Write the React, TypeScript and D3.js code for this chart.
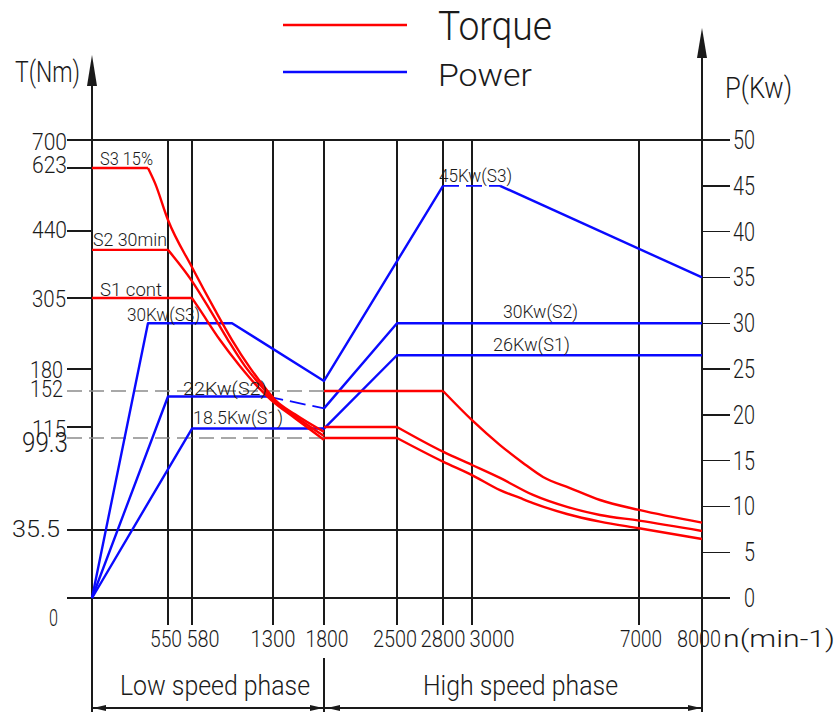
import * as d3 from "d3";

// speed axis (min-1) — the drawing spaces these unevenly
const rpmTicks = [0, 550, 580, 1300, 1800, 2500, 2800, 3000, 7000, 8000];
const rpmPx = [92, 168, 192, 273, 324, 397, 443, 472, 639, 702];

// torque axis (Nm) — also uneven
const torqueTicks = [0, 35.5, 99.3, 115, 152, 180, 305, 440, 623, 700];
const torquePx = [598, 530, 438, 427, 391, 369, 298, 231, 168, 140];

const powerTicks = [0, 5, 10, 15, 20, 25, 30, 35, 40, 45, 50];

// torque curves [rpm, Nm]: flat part, then falling part
const torqueS3LowFlat = [[0, 623], [405, 623]];
const torqueS3LowFall = [[405, 623], [456, 579], [550, 472], [580, 367], [784, 284], [936, 231], [1096, 182], [1229, 156], [1320, 143], [1516, 128], [1800, 108]];
const torqueS2LowFlat = [[0, 402], [550, 402]];
const torqueS2LowFall = [[550, 402], [580, 339], [740, 284], [900, 231], [1051, 185], [1202, 157], [1300, 143], [1516, 126], [1800, 102]];
const torqueS1LowFlat = [[0, 305], [580, 305]];
const torqueS1LowFall = [[580, 305], [651, 284], [829, 231], [1007, 185], [1167, 157], [1282, 143], [1516, 124], [1800, 98]];
const torqueS3HighFlat = [[1800, 152], [2800, 152]];
const torqueS3HighFall = [[2800, 152], [3000, 122], [3671, 94.4], [4222, 82], [4701, 72.3], [5347, 64.6], [6066, 56.3], [7000, 49.4], [8000, 40.6]];
const torqueS2HighFlat = [[1800, 115], [2500, 115]];
const torqueS2HighFall = [[2500, 115], [2800, 89.8], [3000, 80.6], [3671, 71.6], [4461, 59.8], [5275, 51.5], [6066, 45.9], [7000, 42], [8000, 35]];
const torqueS1HighFlat = [[1800, 99.3], [2500, 99.3]];
const torqueS1HighFall = [[2500, 99.3], [2800, 82.9], [3000, 73.6], [3671, 63.2], [4150, 57.7], [4461, 54.2], [5275, 46.6], [6066, 41.3], [7000, 36.7], [8000, 30.8]];

// power curves [rpm, kW]
const powerS3 = [[0, 0], [405, 30], [936, 30], [1800, 23.7], [2800, 45]];
const powerS3Dash = [[2800, 45], [3671, 45]];
const powerS3Tail = [[3671, 45], [8000, 35]];
const powerS2 = [[0, 0], [550, 22], [1250, 22]];
const powerS2Dash = [[1250, 22], [1800, 20.7]];
const powerS2High = [[1800, 20.7], [2500, 30], [8000, 30]];
const powerS1 = [[0, 0], [580, 18.5], [1800, 18.5], [2500, 26.5], [8000, 26.5]];

const tickTorque = [623, 440, 305, 180, 115];
const dashedTorque = [152, 99.3];

const FONT = "Roboto, 'Liberation Sans', Arial, sans-serif";
const INK = "#1a1a1a";
const RED = "#ff0000";
const BLUE = "#0a0aff";

type LabelProps = { x: number; y: number; w: number; size: number; anchor?: string; children: string };
const Label = ({ x, y, w, size, anchor = "start", children }: LabelProps) => (
  <text
    x={x}
    y={y}
    fontSize={size}
    fontWeight={300}
    textLength={w}
    lengthAdjust="spacingAndGlyphs"
    textAnchor={anchor}
    fill={INK}
    fontFamily={FONT}
  >
    {children}
  </text>
);

// left-axis label tweaks [value, text, rightEdge, baselineShift, width, size]
const torqueLabels: [number, string, number, number, number, number][] = [
  [700, "700", 67, 10, 35, 24],
  [623, "623", 67, 5, 35, 24],
  [440, "440", 67, 7, 35, 24],
  [305, "305", 66, 9, 34, 24],
  [180, "180", 63, 9, 33, 24],
  [152, "152", 63, 6, 33, 24],
  [115, "115", 66, 10, 34, 24],
  [99.3, "99.3", 68, 14, 46, 28],
  [35.5, "35.5", 60, 7, 48, 24],
  [0, "0", 58, 28, 9, 24],
];

// bottom label tweaks [rpm, dx, width]
const rpmLabels: [number, number, number][] = [
  [550, -2, 32], [580, 11, 33], [1300, 0, 45], [1800, 3, 43], [2500, -2, 44],
  [2800, 0, 45], [3000, 20, 45], [7000, 2, 42], [8000, -3, 44],
];

export default function App() {
  const x = d3.scaleLinear().domain(rpmTicks).range(rpmPx);
  const yT = d3.scaleLinear().domain(torqueTicks).range(torquePx);
  const yP = d3.scaleLinear().domain([0, 50]).range([598, 140]);

  const tLine = d3.line<number[]>().x((d) => x(d[0])).y((d) => yT(d[1]));
  const tCurve = d3.line<number[]>().x((d) => x(d[0])).y((d) => yT(d[1])).curve(d3.curveMonotoneX);
  const pLine = d3.line<number[]>().x((d) => x(d[0])).y((d) => yP(d[1]));

  const xL = x(0);
  const xR = x(8000);
  const yTop = yT(700);
  const y0 = yT(0);
  const tickL = 67;
  const tickR = 730;
  const gridBottom = 625;
  const dimY = 708;
  const xMid = x(1800);

  const arrow = (tipX: number, tipY: number, dir: number) =>
    `${tipX},${tipY} ${tipX - 13 * dir},${tipY - 3} ${tipX - 13 * dir},${tipY + 3}`;

  const torqueFlat = [torqueS3LowFlat, torqueS2LowFlat, torqueS1LowFlat, torqueS3HighFlat, torqueS2HighFlat, torqueS1HighFlat];
  const torqueFall = [torqueS3LowFall, torqueS2LowFall, torqueS1LowFall, torqueS3HighFall, torqueS2HighFall, torqueS1HighFall];
  const powerSolid = [powerS3, powerS3Tail, powerS2, powerS2High, powerS1];
  const powerDashed = [powerS3Dash, powerS2Dash];

  return (
    <svg
      width={840}
      height={712}
      style={{ position: "absolute", left: 0, top: 0, background: "#fff" }}
    >
      {/* legend */}
      <line x1={283} x2={407} y1={25} y2={25} stroke={RED} strokeWidth={2.5} />
      <line x1={283} x2={407} y1={72} y2={72} stroke={BLUE} strokeWidth={2.5} />
      <Label x={438} y={40} w={114} size={40}>Torque</Label>
      <Label x={438} y={86} w={94} size={32}>Power</Label>

      {/* axes titles */}
      <Label x={15} y={82} w={65} size={30}>T(Nm)</Label>
      <Label x={725} y={98} w={67} size={29}>P(Kw)</Label>
      <Label x={723} y={647} w={112} size={24}>n(min-1)</Label>

      {/* grid */}
      <g stroke={INK} strokeWidth={1.4} shapeRendering="crispEdges">
        <line x1={tickL} x2={tickR} y1={yTop} y2={yTop} />
        <line x1={tickL} x2={tickR} y1={y0} y2={y0} />
        <line x1={tickL} x2={x(7000)} y1={yT(35.5)} y2={yT(35.5)} />
        {tickTorque.map((v) => (
          <line key={v} x1={tickL} x2={xL} y1={yT(v)} y2={yT(v)} />
        ))}
        {powerTicks.slice(1, -1).map((v) => (
          <line key={v} x1={xR} x2={tickR} y1={yP(v)} y2={yP(v)} />
        ))}
        {rpmTicks.slice(1, -1).map((r) => (
          <line key={r} x1={x(r)} x2={x(r)} y1={yTop} y2={gridBottom} />
        ))}
        <line x1={xMid} x2={xMid} y1={658} y2={712} />
        <line x1={xL} x2={xL} y1={70} y2={712} />
        <line x1={xR} x2={xR} y1={45} y2={712} />
        <line x1={xL} x2={xR} y1={dimY} y2={dimY} />
      </g>
      <g stroke="#8c8c8c" strokeWidth={1.4} strokeDasharray="15 7">
        {dashedTorque.map((v) => (
          <line key={v} x1={tickL} x2={xMid} y1={yT(v)} y2={yT(v)} />
        ))}
      </g>

      {/* axis arrows */}
      <polygon points={`${xL},55 ${xL - 5},86 ${xL + 5},86`} fill={INK} />
      <polygon points={`${xR},28 ${xR - 5},58 ${xR + 5},58`} fill={INK} />
      <g fill={INK}>
        <polygon points={arrow(xL + 1, dimY, -1)} />
        <polygon points={arrow(xMid - 1, dimY, 1)} />
        <polygon points={arrow(xMid + 3, dimY, -1)} />
        <polygon points={arrow(xR - 1, dimY, 1)} />
      </g>

      {/* power curves */}
      <g fill="none" stroke={BLUE} strokeWidth={2.4} strokeLinejoin="round">
        {powerSolid.map((d, i) => (
          <path key={i} d={pLine(d) ?? ""} />
        ))}
        {powerDashed.map((d, i) => (
          <path key={i} d={pLine(d) ?? ""} strokeDasharray="16 7" strokeWidth={1.8} />
        ))}
      </g>

      {/* torque curves */}
      <g fill="none" stroke={RED} strokeWidth={2.4} strokeLinejoin="round">
        {torqueFlat.map((d, i) => (
          <path key={`f${i}`} d={tLine(d) ?? ""} />
        ))}
        {torqueFall.map((d, i) => (
          <path key={`c${i}`} d={tCurve(d) ?? ""} />
        ))}
      </g>

      {/* tick labels */}
      {torqueLabels.map(([v, t, r, dy, w, s]) => (
        <Label key={t} x={r} y={yT(v) + dy} w={w} size={s} anchor="end">{t}</Label>
      ))}
      {powerTicks.map((v) => (
        <Label key={v} x={755} y={yP(v) + 9} w={v < 10 ? 11 : 22} size={25} anchor="end">
          {String(v)}
        </Label>
      ))}
      {rpmLabels.map(([r, dx, w]) => (
        <Label key={r} x={x(r) + dx} y={647} w={w} size={24} anchor="middle">
          {String(r)}
        </Label>
      ))}

      {/* curve labels */}
      <Label x={xL + 8} y={yT(623) - 3} w={53} size={18}>S3 15%</Label>
      <Label x={xL + 1} y={yT(402) - 4} w={74} size={18}>S2 30min</Label>
      <Label x={xL + 8} y={yT(305) - 2} w={62} size={18}>S1 cont</Label>
      <Label x={127} y={yP(30) - 2} w={73} size={18}>30Kw(S3)</Label>
      <Label x={183} y={yP(22) - 1.5} w={84} size={18}>22Kw(S2)</Label>
      <Label x={193} y={yP(18.5) - 5} w={90} size={18}>18.5Kw(S1)</Label>
      <Label x={439} y={yP(45) - 4} w={73} size={18}>45Kw(S3)</Label>
      <Label x={503} y={yP(30) - 5} w={75} size={18}>30Kw(S2)</Label>
      <Label x={493} y={yP(26.5) - 4} w={77} size={18}>26Kw(S1)</Label>

      {/* phase captions */}
      <Label x={120} y={695} w={190} size={27}>Low speed phase</Label>
      <Label x={423} y={695} w={195} size={27}>High speed phase</Label>
    </svg>
  );
}
